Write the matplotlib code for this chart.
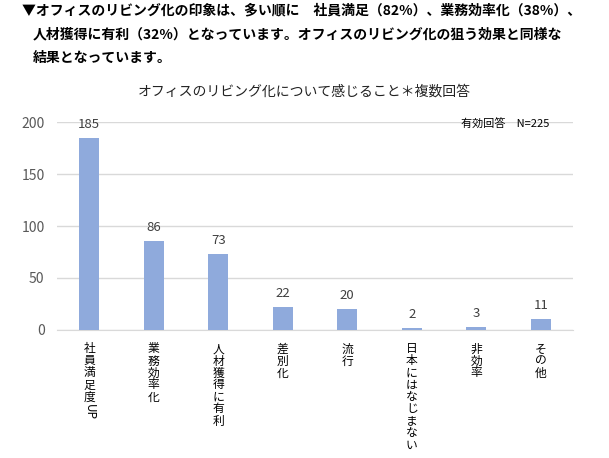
import matplotlib.pyplot as plt
from matplotlib import transforms

plt.rcParams['font.family'] = ['Noto Sans CJK JP', 'DejaVu Sans']

categories = ['社員満足度UP', '業務効率化', '人材獲得に有利', '差別化', '流行',
              '日本にはなじまない', '非効率', 'その他']
counts = [185, 86, 73, 22, 20, 2, 3, 11]
yticks = [0, 50, 100, 150, 200]

header = ['▼オフィスのリビング化の印象は、多い順に　社員満足（82%）、業務効率化（38%）、',
          '人材獲得に有利（32%）となっています。オフィスのリビング化の狙う効果と同様な',
          '結果となっています。']
title = 'オフィスのリビング化について感じること＊複数回答'
note = '有効回答　N=225'

fig = plt.figure(figsize=(6.09, 4.58), dpi=100)
ax = fig.add_axes([0.0936, 0.2795, 0.8474, 0.4541])

x = list(range(len(categories)))
bars = ax.bar(x, counts, width=0.31, color='#8FAADC', zorder=3)
ax.set_xlim(-0.5, len(categories) - 0.5)
ax.set_ylim(0, 200)
ax.set_yticks(yticks)
ax.yaxis.grid(True, color='#D9D9D9', linewidth=1)
ax.set_axisbelow(True)
for s in ['top', 'right', 'left']:
    ax.spines[s].set_visible(False)
ax.spines['bottom'].set_color('#D9D9D9')
ax.tick_params(axis='y', length=0, labelsize=10, labelcolor='#595959', pad=9)
ax.tick_params(axis='x', length=0)
ax.set_xticks(x)
ax.set_xticklabels([''] * len(categories))

for b, v in zip(bars, counts):
    ax.annotate(str(v), (b.get_x() + b.get_width() / 2, v), xytext=(0, 5),
                textcoords='offset points', ha='center', va='bottom',
                fontsize=9.5, color='#404040')

# vertical category labels, one character per row
trans = transforms.blended_transform_factory(ax.transData, ax.transAxes)
fs = 8.5
pitch = 12 * 0.72  # 12 px per character, in points
for i, lab in enumerate(categories):
    body = lab.replace('UP', '')
    for k, ch in enumerate(body):
        ax.annotate(ch, (i, 0), xycoords=trans, xytext=(0, -9 - k * pitch),
                    textcoords='offset points', ha='center', va='top',
                    fontsize=fs, color='#000000')
    if lab.endswith('UP'):
        ax.annotate('UP', (i, 0), xycoords=trans,
                    xytext=(0, -9 - len(body) * pitch - 1),
                    textcoords='offset points', ha='center', va='top',
                    rotation=-90, fontsize=fs)

ax.text(0.955, 0.99, note, transform=ax.transAxes, ha='right', va='center',
        fontsize=8, color='#000000')

fig.text(0.5, 1 - 92 / 458, title, ha='center', va='center', fontsize=10,
         color='#222222')

fig.text(22 / 609, 1 - 10 / 458, header[0], ha='left', va='center',
         fontsize=10, fontweight='bold')
fig.text(33 / 609, 1 - 34 / 458, header[1], ha='left', va='center',
         fontsize=10, fontweight='bold')
fig.text(33 / 609, 1 - 58 / 458, header[2], ha='left', va='center',
         fontsize=10, fontweight='bold')

fig.savefig('out.png', dpi=100)
